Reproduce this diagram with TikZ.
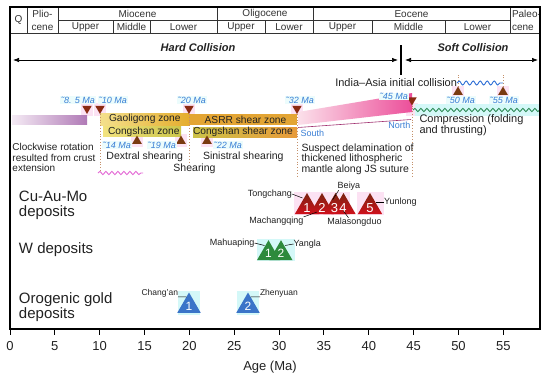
\documentclass[tikz,border=0pt]{standalone}
\usepackage{fontspec}
\setmainfont{Liberation Sans}
\usetikzlibrary{shapes.geometric,decorations.pathmorphing,arrows.meta,calc}
\definecolor{hdrgray}{HTML}{333333}
\definecolor{mkred}{HTML}{8A2A12}
\definecolor{mkbrown}{HTML}{7A3A10}
\definecolor{mablue}{HTML}{3A7FD5}
\definecolor{pinkhl}{HTML}{FCE2F3}
\definecolor{cyanbg}{HTML}{ECFCFC}
\definecolor{purpleL}{HTML}{F4EAF4}
\definecolor{purpleR}{HTML}{B07AB6}
\definecolor{goldL}{HTML}{F4E08C}
\definecolor{goldR}{HTML}{E5AD2E}
\definecolor{asrr}{HTML}{E3A534}
\definecolor{congL}{HTML}{F2E27E}
\definecolor{congR}{HTML}{CCC64A}
\definecolor{csL}{HTML}{CCC248}
\definecolor{csR}{HTML}{E89A3A}
\definecolor{pinkL}{HTML}{FBE0EA}
\definecolor{pinkR}{HTML}{EC4F9A}
\definecolor{wavegreen}{HTML}{2E8B57}
\definecolor{wavecyan}{HTML}{D4F8F8}
\definecolor{waveblue}{HTML}{2F6FD6}
\definecolor{wavepink}{HTML}{E46AD6}
\definecolor{dotcol}{HTML}{C4906A}
\definecolor{cuTop}{HTML}{7A2410}
\definecolor{cuBot}{HTML}{D0101C}
\definecolor{wgreen}{HTML}{2D8A3C}
\definecolor{gblue}{HTML}{3A74C8}
\definecolor{southline}{HTML}{A03070}
\definecolor{txt}{HTML}{222222}
\begin{document}
\begin{tikzpicture}[x=1pt,y=-1pt,
  every node/.style={inner sep=0pt, outer sep=0pt},
  hdr/.style={font=\fontsize{10}{12.5}\selectfont, text=hdrgray},
  frameline/.style={line width=1.3pt, black},
  hdrline/.style={line width=0.6pt, hdrgray},
  malabel/.style={font=\fontsize{9}{9}\selectfont\itshape, text=mablue, fill=cyanbg, inner sep=0.6pt},
  downmk/.style={regular polygon, regular polygon sides=3, shape border rotate=180, fill=mkred, minimum size=11pt},
  upmk/.style={regular polygon, regular polygon sides=3, fill=mkbrown, minimum size=11pt},
  dotline/.style={dotted, line width=0.8pt, dotcol},
  coll/.style={font=\fontsize{11}{11}\selectfont\bfseries\itshape, text=txt},
  collarrow/.style={line width=0.7pt, {Latex[length=6pt,width=4.5pt]}-{Latex[length=6pt,width=4.5pt]}},
  body/.style={font=\fontsize{10}{10.5}\selectfont, text=txt, align=left},
  bigbody/.style={font=\fontsize{10.5}{10.5}\selectfont, text=txt, align=left},
  barlabel/.style={font=\fontsize{10.2}{10}\selectfont, text=txt},
  cat/.style={font=\fontsize{15}{15.5}\selectfont, text=txt, align=left},
  cutri/.style={regular polygon, regular polygon sides=3, minimum size=28pt, top color=cuTop, bottom color=cuBot},
  numlab/.style={text=white, font=\fontsize{13}{13}\selectfont},
  wtri/.style={regular polygon, regular polygon sides=3, minimum size=26.6pt, fill=wgreen, text=white, font=\fontsize{12}{12}\selectfont},
  autri/.style={regular polygon, regular polygon sides=3, minimum size=27pt, fill=gblue, text=white, font=\fontsize{12}{12}\selectfont},
  deplabel/.style={font=\fontsize{9}{9}\selectfont, text=txt},
  smalllabel/.style={font=\fontsize{8.5}{8.5}\selectfont, text=txt},
  leader/.style={line width=0.5pt, black},
  wave/.style={decorate, decoration={snake, segment length=6pt, amplitude=1.6pt}, line width=0.9pt}
]
\useasboundingbox (0,0) rectangle (550,380);
\fill[white] (0,0) rectangle (550,380);

% ---------- header (time scale) ----------
\draw[hdrline] (58,20.5) -- (510,20.5);
\draw[hdrline] (10,33) -- (540,33);
\foreach \xv in {27,58,217,313,510} { \draw[hdrline] (\xv,7) -- (\xv,33); }
\foreach \xv in {113,150,265,372,445} { \draw[hdrline] (\xv,20.5) -- (\xv,33); }
\node[hdr] (hq) at (18.5,20) {Q};
\node[hdr, align=center] (hplio) at (42.5,20.5) {Plio-\\cene};
\node[hdr] (hmio) at (137.5,14) {Miocene};
\node[hdr] (holi) at (265,14) {Oligocene};
\node[hdr] (heoc) at (411.5,14) {Eocene};
\node[hdr, align=left, anchor=west] (hpal) at (512,20.5) {Paleo-\\cene};
\node[hdr] (hmu) at (85.5,27) {Upper};
\node[hdr] (hmm) at (131.5,27) {Middle};
\node[hdr] (hml) at (183.5,27) {Lower};
\node[hdr] (hou) at (241,27) {Upper};
\node[hdr] (hol) at (289,27) {Lower};
\node[hdr] (heu) at (342.5,27) {Upper};
\node[hdr] (hem) at (408.5,27) {Middle};
\node[hdr] (hel) at (477.5,27) {Lower};

% ---------- collision arrows ----------
\coordinate (hcL) at (13,60);
\coordinate (hcR) at (398,60);
\coordinate (scL) at (405,60);
\coordinate (scR) at (538,60);
\coordinate (divT) at (401,45);
\coordinate (divB) at (401,75);
\draw[collarrow] (hcL) -- (hcR);
\draw[collarrow] (scL) -- (scR);
\draw[line width=1.2pt] (divT) -- (divB);
\node[coll] (hard) at (198,48) {Hard Collision};
\node[coll] (soft) at (473,48) {Soft Collision};

% ---------- highlights ----------
\foreach \xv in {87,100,189,297,412} { \fill[pinkhl] (\xv-6,102.5) rectangle (\xv+6,116); }
\foreach \xv in {137,181,207} { \fill[pinkhl] (\xv-6,134) rectangle (\xv+6,147); }
\foreach \xv in {458,503} { \fill[pinkhl] (\xv-6,86) rectangle (\xv+6,98); }
\fill[wavecyan] (415,104) rectangle (540,116);

% ---------- bars ----------
\shade[left color=purpleL, right color=purpleR] (12,115) rectangle (87,124);
\shade[left color=goldL, right color=goldR] (100,113) rectangle (189,125);
\shade[left color=congL, right color=congR] (103,126.5) rectangle (181,136.5);
\fill[asrr] (189,113.5) rectangle (297,125);
\shade[left color=csL, right color=csR] (193,127.5) rectangle (297,137);
\shade[left color=pinkL, right color=pinkR] (298,112) -- (412,93) -- (412,112) -- (298,125) -- cycle;

\node[barlabel, anchor=west] (gao) at (109,119) {Gaoligong zone};
\node[barlabel, anchor=west] (cong) at (108,131.5) {Congshan zone};
\node[barlabel] (asrrl) at (245.5,119.5) {ASRR shear zone};
\node[barlabel, anchor=west] (congsh) at (193,132) {Congshan shear zone};

% ---------- markers ----------
\node[downmk] (d85) at (87,108.5) {};
\node[downmk] (d10) at (100,108.5) {};
\node[downmk] (d20) at (189,108.5) {};
\node[downmk] (d32) at (297,108.5) {};
\node[downmk] (d45) at (412,100) {};
\node[upmk] (u14) at (137,141) {};
\node[upmk] (u19) at (181,141) {};
\node[upmk] (u22) at (207,141) {};
\node[upmk] (u50) at (458,92) {};
\node[upmk] (u55) at (503,92) {};

\node[malabel] (l85) at (78,100) {˜8. 5 Ma};
\node[malabel] (l10) at (113,100) {˜10 Ma};
\node[malabel] (l20) at (192,100) {˜20 Ma};
\node[malabel] (l32) at (300,100) {˜32 Ma};
\node[malabel] (l45) at (394,96.5) {˜45 Ma};
\node[malabel] (l14) at (117,145) {˜14 Ma};
\node[malabel] (l19) at (162,145) {˜19 Ma};
\node[malabel] (l22) at (228,145) {˜22 Ma};
\node[malabel] (l50) at (461,100) {˜50 Ma};
\node[malabel] (l55) at (504,100) {˜55 Ma};

% dotted guide lines
\coordinate (e10) at (100,172);
\coordinate (e20) at (189,162);
\coordinate (e32) at (297,178);
\coordinate (e45) at (412,178);
\coordinate (e50) at (458,74);
\coordinate (e55) at (503,74);
\draw[dotline] (d10.south) -- (e10);
\draw[dotline] (d20.south) -- (e20);
\draw[dotline] (d32.south) -- (e32);
\draw[dotline] (d45.south) -- (e45);
\draw[dotline] (u50.north) -- (e50);
\draw[dotline] (u55.north) -- (e55);

% South -> North line
\node[font=\fontsize{9}{9}\selectfont, text=mablue, anchor=west] (south) at (300.5,133.5) {South};
\node[font=\fontsize{9}{9}\selectfont, text=mablue, anchor=east] (north) at (410.5,125.5) {North};
\coordinate (snA) at (298,127.5);
\coordinate (snB) at (411,119.5);
\draw[southline, line width=0.6pt] (snA) -- (snB);

% wavy lines
\coordinate (gwA) at (413,110);
\coordinate (gwB) at (540,110);
\draw[wave, wavegreen] (gwA) -- (gwB);
\node[font=\fontsize{11}{11}\selectfont, text=txt, anchor=east] (india) at (457,83) {India–Asia initial collision};
\coordinate (bwB) at (503,83);
\draw[wave, waveblue, decoration={segment length=7pt, amplitude=2pt}] (india.east) -- (bwB);
\coordinate (pwA) at (98,173);
\coordinate (pwB) at (143,173);
\draw[wave, wavepink, decoration={segment length=6pt, amplitude=1.6pt}] (pwA) -- (pwB);

% ---------- descriptive texts ----------
\node[body, anchor=north west] (clock) at (12.5,143.5) {Clockwise rotation\\resulted from crust\\extension};
\node[bigbody, anchor=west] (dext) at (106.5,156.5) {Dextral shearing};
\node[bigbody, anchor=west] (sini) at (203,157) {Sinistral shearing};
\node[bigbody] (shear) at (194.5,169) {Shearing};
\node[bigbody, anchor=north west] (susp) at (301.5,143.5) {Suspect delamination of\\thickened lithospheric\\mantle along JS suture};
\node[font=\fontsize{11}{11}\selectfont, text=txt, align=left, anchor=north west] (comp) at (419.5,115) {Compression (folding\\and thrusting)};

% ---------- deposit categories ----------
\node[cat, anchor=west] (cucat) at (19,205.5) {Cu-Au-Mo\\deposits};
\node[cat, anchor=west] (wcat) at (19,250) {W deposits};
\node[cat, anchor=west] (aucat) at (19,307) {Orogenic gold\\deposits};

% Cu-Au-Mo
\fill[pinkhl] (294,192) rectangle (350,215);
\fill[pinkhl] (357,192) rectangle (384,215);
\node[cutri] (c1) at (307,207) {};
\node[cutri] (c2) at (322,207) {};
\node[cutri] (c3) at (335.5,207) {};
\node[cutri] (c4) at (343.5,207) {};
\node[cutri] (c5) at (370,207) {};
\node[numlab] (n1) at (307,208) {1};
\node[numlab] (n2) at (322,208) {2};
\node[numlab] (n3) at (334.5,208) {3};
\node[numlab] (n4) at (343,208) {4};
\node[numlab] (n5) at (370,208) {5};
\node[deplabel, anchor=east] (tong) at (292,194) {Tongchang};
\node[deplabel, anchor=north east] (mach) at (303.5,217) {Machangqing};
\node[deplabel] (beiya) at (349,186) {Beiya};
\node[deplabel] (mala) at (354.5,222) {Malasongduo};
\node[deplabel, anchor=west] (yun) at (384,202) {Yunlong};
\draw[leader] (tong.east) -- ($(c1.center)+(-4.5,-9)$);
\draw[leader] (mach.north east) -- ($(c2.center)+(-5,5)$);
\draw[leader] ($(beiya.south west)+(1,0)$) -- ($(c3.center)+(-3,-7)$);
\draw[leader] ($(mala.north)+(-6,0)$) -- ($(c4.center)+(0,4)$);
\draw[leader] (yun.west) -- ($(c5.center)+(6,-5)$);

% W deposits
\fill[wavecyan] (257,239) rectangle (295,261);
\node[wtri] (w1) at (268.5,253.5) {1};
\node[wtri] (w2) at (281,253.5) {2};
\node[deplabel, anchor=east] (mahu) at (254.5,243) {Mahuaping};
\node[deplabel, anchor=west] (yang) at (293.5,244) {Yangla};
\draw[leader] (mahu.east) -- ($(w1.center)+(-4,-8)$);
\draw[leader] (yang.west) -- ($(w2.center)+(4,-8)$);

% Orogenic gold
\fill[wavecyan] (178,291) rectangle (200,315);
\fill[wavecyan] (237,291) rectangle (259,315);
\node[autri] (a1) at (189,306) {1};
\node[autri] (a2) at (248,306) {2};
\node[smalllabel, anchor=east] (chang) at (178,293) {Chang’an};
\node[smalllabel, anchor=west] (zhen) at (260,293) {Zhenyuan};
\draw[leader] (chang.south east) -- ($(a1.center)+(-2.5,-9)$);
\draw[leader] (zhen.south west) -- ($(a2.center)+(2.5,-9)$);

% ---------- frame and axis ----------
\draw[frameline] (10,7) rectangle (540,329);
\foreach \k in {0,...,11} {
  \pgfmathtruncatemacro\v{5*\k}
  \draw[line width=1pt] ({10+44.85*\k},329) -- ({10+44.85*\k},335);
  \node[font=\fontsize{13}{13}\selectfont, text=txt] (tk\k) at ({10+44.85*\k},346) {\v};
}
\node[font=\fontsize{13}{13}\selectfont, text=txt] (agelab) at (270,367) {Age (Ma)};
\end{tikzpicture}
\end{document}
